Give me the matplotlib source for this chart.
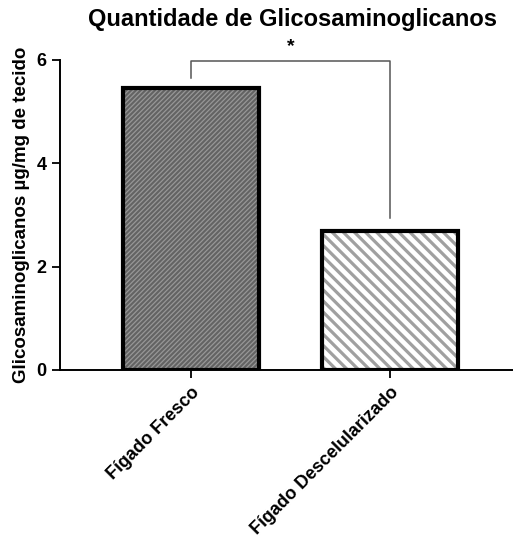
import matplotlib
matplotlib.use("Agg")
import matplotlib.pyplot as plt

plt.rcParams['font.family'] = ['Liberation Sans', 'DejaVu Sans']
plt.rcParams['font.weight'] = 'bold'

categories = ["Fígado Fresco", "Fígado Descelularizado"]
values = [5.45, 2.69]
y_ticks = [0, 2, 4, 6]
significance = "*"

face_colors = ["#636363", "white"]
hatch_colors = ["#979797", "#a0a0a0"]
hatches = ["/" * 7, "\\" * 3]
hatch_widths = [0.9, 2.3]

fig = plt.figure(figsize=(5.13, 5.44), dpi=100)
ax = fig.add_axes([0.117, 0.32, 0.883, 0.57])

x = range(len(categories))
width = 0.68
for i, v in enumerate(values):
    plt.rcParams['hatch.linewidth'] = hatch_widths[i]
    ax.bar(i, v, width=width, color=face_colors[i], edgecolor=hatch_colors[i],
           hatch=hatches[i], linewidth=0, zorder=2)
ax.bar(list(x), values, width=width, fill=False, edgecolor="black",
       linewidth=3, zorder=3)

# significance bracket
top = 5.98
ax.plot([0, 0, 1, 1], [values[0] + 0.2, top, top, values[1] + 0.25],
        color="#555555", linewidth=1.1, zorder=1)
ax.text(0.5, top + 0.12, significance, ha="center", va="bottom",
        fontsize=14, fontweight="bold")

ax.set_xlim(-0.658, 1.618)
ax.set_ylim(0, 6)
ax.set_yticks(y_ticks)
ax.set_yticklabels([str(t) for t in y_ticks], fontsize=13, fontweight="bold")
ax.set_xticks(list(x))
ax.set_xticklabels(categories, rotation=45, ha="right", rotation_mode="anchor",
                   fontsize=13, fontweight="bold")
ax.tick_params(axis="both", length=6, width=1.3, direction="out")
ax.tick_params(axis="x", pad=4)
for s in ["top", "right"]:
    ax.spines[s].set_visible(False)
for s in ["left", "bottom"]:
    ax.spines[s].set_linewidth(1.4)

ax.set_ylabel("Glicosaminoglicanos µg/mg de tecido", fontsize=13.5,
              fontweight="bold", labelpad=5)
fig.text(0.57, 0.965, "Quantidade de Glicosaminoglicanos", ha="center",
         va="center", fontsize=17, fontweight="bold")

fig.savefig("out.png", dpi=100, facecolor="white")
